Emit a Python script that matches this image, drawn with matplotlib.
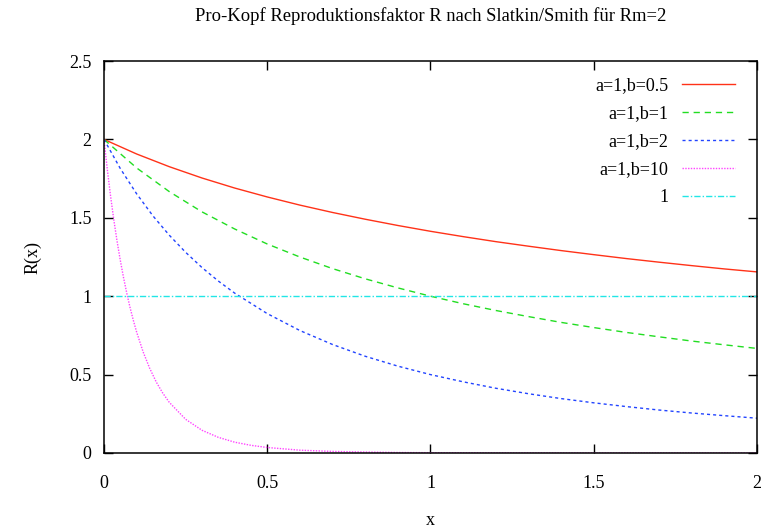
import matplotlib
matplotlib.use("Agg")
import matplotlib.pyplot as plt

# R(x) at x = 0, 0.1, ..., 2
x_grid = [0.0, 0.1, 0.2, 0.3, 0.4, 0.5, 0.6, 0.7, 0.8, 0.9, 1.0,
          1.1, 1.2, 1.3, 1.4, 1.5, 1.6, 1.7, 1.8, 1.9, 2.0]
r_b05 = [2.0, 1.907, 1.826, 1.754, 1.690, 1.633, 1.581, 1.534, 1.491, 1.451, 1.414,
         1.380, 1.348, 1.319, 1.291, 1.265, 1.240, 1.217, 1.195, 1.174, 1.155]
r_b1 = [2.0, 1.818, 1.667, 1.538, 1.429, 1.333, 1.250, 1.176, 1.111, 1.053, 1.0,
        0.952, 0.909, 0.870, 0.833, 0.800, 0.769, 0.741, 0.714, 0.690, 0.667]

x_b2 = [0.0, 0.05, 0.1, 0.15, 0.2, 0.25, 0.3, 0.35, 0.4, 0.5, 0.6, 0.7, 0.8, 0.9, 1.0,
        1.1, 1.2, 1.3, 1.4, 1.5, 1.6, 1.7, 1.8, 1.9, 2.0]
r_b2 = [2.0, 1.814, 1.653, 1.512, 1.389, 1.280, 1.183, 1.097, 1.020, 0.889, 0.781,
        0.692, 0.617, 0.554, 0.500, 0.454, 0.413, 0.378, 0.347, 0.320, 0.296,
        0.274, 0.255, 0.238, 0.222]

x_b10 = [0.0, 0.01, 0.02, 0.03, 0.04, 0.05, 0.06, 0.07, 0.08, 0.09, 0.10,
         0.12, 0.14, 0.16, 0.18, 0.20, 0.25, 0.30, 0.35, 0.40, 0.45, 0.50,
         0.6, 0.7, 0.8, 0.9, 1.0, 1.2, 1.4, 1.6, 2.0]
r_b10 = [2.0, 1.811, 1.641, 1.488, 1.351, 1.228, 1.117, 1.017, 0.926, 0.845, 0.771,
         0.644, 0.540, 0.453, 0.382, 0.323, 0.215, 0.145, 0.100, 0.069, 0.049, 0.035,
         0.018, 0.010, 0.006, 0.003, 0.002, 0.001, 0.0003, 0.0001, 0.0]

x_one = [0.0, 2.0]
r_one = [1.0, 1.0]

labels = ["a=1,b=0.5", "a=1,b=1", "a=1,b=2", "a=1,b=10", "1"]
colors = ["#ff3218", "#22dd22", "#2244ff", "#ff44ff", "#22e6e6"]

x_ticks = [0, 0.5, 1, 1.5, 2]
y_ticks = [0, 0.5, 1, 1.5, 2, 2.5]
y_tick_labels = ["0", "0.5", "1", "1.5", "2", "2.5"]

plt.rcParams["font.family"] = ["Liberation Serif", "DejaVu Serif"]
plt.rcParams["font.size"] = 13

fig = plt.figure(figsize=(7.63, 5.31), dpi=100)
ax = fig.add_axes([0.1363, 0.1469, 0.9921 - 0.1363, 0.8851 - 0.1469])

lw = 1.0
ax.plot(x_grid, r_b05, color=colors[0], lw=lw, label=labels[0])
ax.plot(x_grid, r_b1, color=colors[1], lw=lw, dashes=(4.5, 3.5), label=labels[1])
ax.plot(x_b2, r_b2, color=colors[2], lw=lw, dashes=(2.2, 2.2), label=labels[2])
ax.plot(x_b10, r_b10, color=colors[3], lw=lw, dashes=(1.0, 1.0), label=labels[3])
ax.plot(x_one, r_one, color=colors[4], lw=lw, dashes=(4.5, 1.5, 1.0, 1.5), label=labels[4])

ax.set_xlim(0, 2)
ax.set_ylim(0, 2.5)
ax.set_xticks(x_ticks)
ax.set_xticklabels(["0", "0.5", "1", "1.5", "2"])
ax.set_yticks(y_ticks)
ax.set_yticklabels(y_tick_labels)
ax.tick_params(direction="in", length=6.5, width=1.0, top=True, right=True)
ax.tick_params(axis="x", pad=16)
ax.tick_params(axis="y", pad=9)
for sp in ax.spines.values():
    sp.set_linewidth(1.1)

ax.set_title("Pro-Kopf Reproduktionsfaktor R nach Slatkin/Smith für Rm=2",
             fontsize=13.4, pad=29)
ax.set_xlabel("x", labelpad=14)
ax.set_ylabel("R(x)", labelpad=20)

ax.legend(loc="upper right", bbox_to_anchor=(0.985, 0.99), frameon=False,
          markerfirst=False, handlelength=2.9, handletextpad=0.75,
          labelspacing=0.6, borderpad=0.2)

fig.savefig("out.png", dpi=100)
